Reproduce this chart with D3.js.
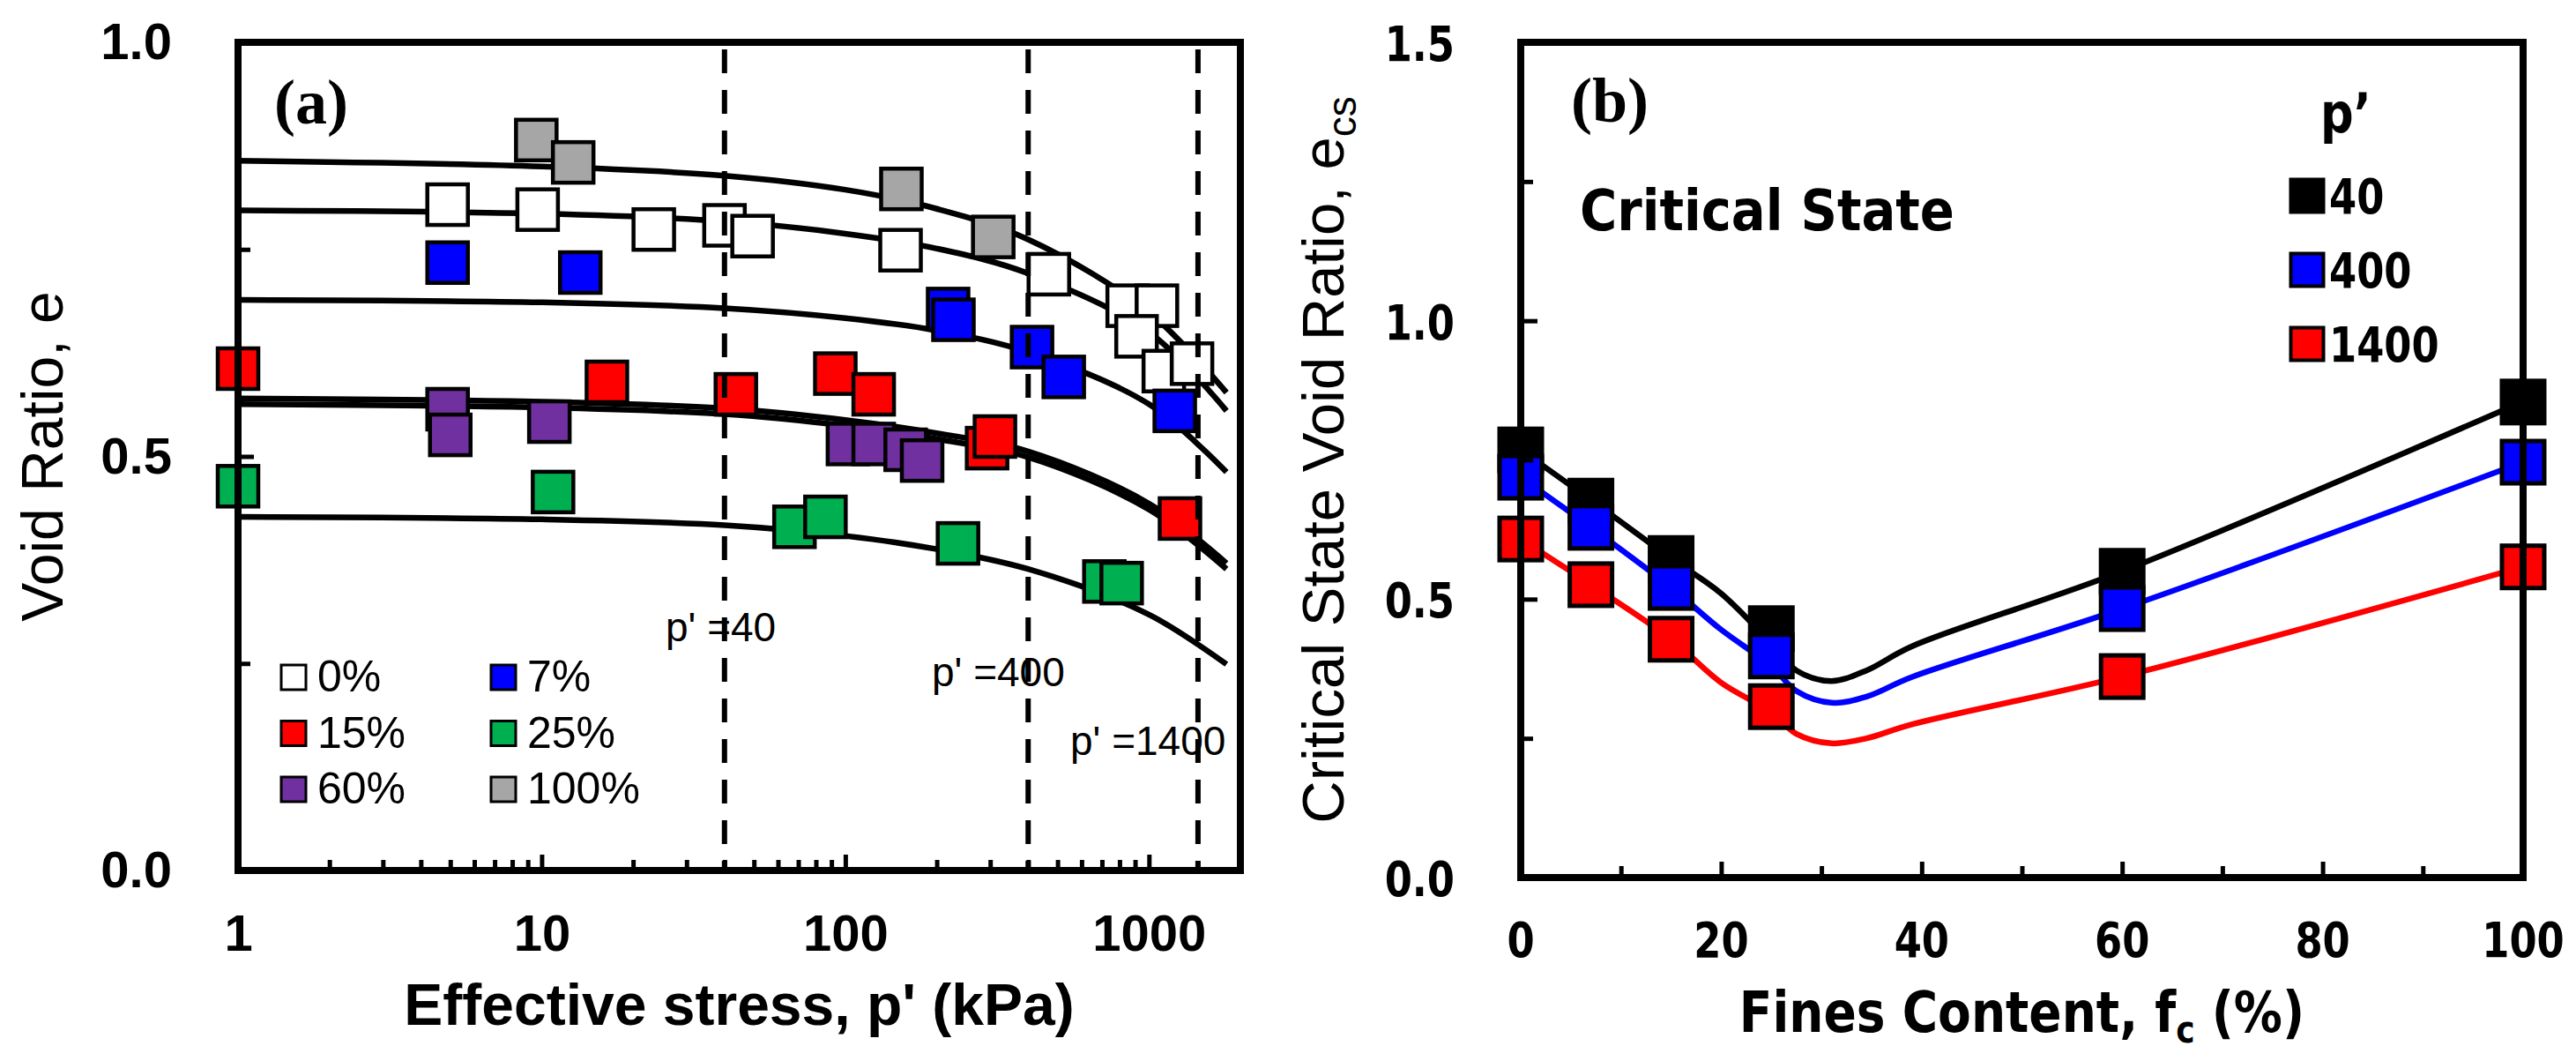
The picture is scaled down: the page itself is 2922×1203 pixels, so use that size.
<!DOCTYPE html>
<html>
<head>
<meta charset="utf-8">
<script src="https://cdn.jsdelivr.net/npm/d3@7"></script>
<style>
  body { margin: 0; background: #fff; }
</style>
</head>
<body>
<svg id="chart" width="2922" height="1203"></svg>
<script>
"use strict";

// ---------- panel (a): void ratio vs effective stress, by fines content
var fcSeries = ["0%", "7%", "15%", "25%", "60%", "100%"];
var fcColors = ["#ffffff", "#0000ff", "#ff0000", "#00b050", "#7030a0", "#a6a6a6"];

// measured points [p' kPa, e]
var pts0   = [[4.9,0.804],[9.7,0.798],[23.4,0.774],[40,0.779],[49.5,0.766],[152,0.749],[468,0.72],[851,0.682],[1062,0.682],[910,0.645],[1119,0.603],[1386,0.612]];
var pts7   = [[4.9,0.734],[13.4,0.722],[218,0.678],[227,0.665],[412,0.632],[524,0.596],[1216,0.555]];
var pts15  = [[1,0.606],[16.4,0.59],[43.6,0.575],[92.7,0.6],[124,0.575],[293,0.51],[311,0.524],[1265,0.425]];
var pts25  = [[1,0.464],[10.9,0.457],[68,0.415],[86,0.427],[235,0.395],[713,0.349],[813,0.347]];
var pts60  = [[4.9,0.557],[5.0,0.526],[10.6,0.542],[102,0.515],[124,0.515],[158,0.508],[179,0.495]];
var pts100 = [[9.6,0.882],[12.7,0.855],[153,0.823],[307,0.765]];

// fitted critical state lines, read at these stresses
var fitP   = [1, 10, 40, 100, 200, 400, 1000, 1800];
var fit0   = [0.797, 0.793, 0.784, 0.769, 0.751, 0.721, 0.650, 0.555];
var fit7   = [0.689, 0.686, 0.679, 0.667, 0.652, 0.626, 0.563, 0.481];
var fit15  = [0.570, 0.566, 0.558, 0.544, 0.528, 0.506, 0.443, 0.371];
var fit25  = [0.427, 0.424, 0.417, 0.404, 0.388, 0.364, 0.309, 0.249];
var fit60  = [0.563, 0.559, 0.551, 0.537, 0.521, 0.499, 0.436, 0.364];
var fit100 = [0.857, 0.850, 0.839, 0.822, 0.799, 0.762, 0.674, 0.577];

var refStress = [40, 400, 1450];
var refLabels = ["p' =40", "p' =400", "p' =1400"];

var xTicksA = [1, 10, 100, 1000];
var yTicksA = [0, 0.5, 1];
var yMinorA = [0.25, 0.75];

// ---------- panel (b): critical state void ratio vs fines content
var fcValues = [0, 7, 15, 25, 60, 100];
var ecs40    = [0.768, 0.676, 0.573, 0.447, 0.550, 0.854];
var ecs400   = [0.719, 0.629, 0.521, 0.398, 0.483, 0.746];
var ecs1400  = [0.608, 0.526, 0.428, 0.307, 0.361, 0.558];

// trend lines drawn through the points
var lineFc   = [0, 7, 15, 20, 25, 27.5, 31, 34.5, 39, 60, 100];
var line40   = [0.768, 0.678, 0.573, 0.510, 0.420, 0.372, 0.353, 0.372, 0.415, 0.550, 0.855];
var line400  = [0.719, 0.629, 0.521, 0.445, 0.380, 0.335, 0.314, 0.325, 0.360, 0.483, 0.746];
var line1400 = [0.608, 0.526, 0.428, 0.350, 0.297, 0.258, 0.241, 0.250, 0.275, 0.361, 0.558];

var pSeries = ["40", "400", "1400"];
var pColors = ["#000000", "#0000ff", "#ff0000"];

var xTicksB = [0, 20, 40, 60, 80, 100];
var xMinorB = [10, 30, 50, 70, 90];
var yTicksB = [0, 0.5, 1, 1.5];
var yMinorB = [0.25, 0.75, 1.25];

var SANS = "Liberation Sans, Arial, sans-serif";
var WIDE = "DejaVu Sans, Verdana, sans-serif";
var SERIF = "Liberation Serif, Times New Roman, serif";

var svg = d3.select("#chart");

// ======================= panel (a) =======================
var boxA = {left: 270, right: 1407, top: 48, bottom: 987};
var xA = d3.scaleLog().domain([1, 2000]).range([boxA.left, boxA.right]);
var yA = d3.scaleLinear().domain([0, 1]).range([boxA.bottom, boxA.top]);
var gA = svg.append("g");

var fitsA = [fit0, fit7, fit15, fit25, fit60, fit100];
var ptsA = [pts0, pts7, pts15, pts25, pts60, pts100];

var lineA = d3.line()
  .x(function (d) { return xA(d[0]); })
  .y(function (d) { return yA(d[1]); })
  .curve(d3.curveCatmullRom);

gA.selectAll("path.fit")
  .data(fitsA)
  .enter()
  .append("path")
  .attr("class", "fit")
  .attr("d", function (vals) { return lineA(d3.zip(fitP, vals)); })
  .attr("fill", "none")
  .attr("stroke", "#000")
  .attr("stroke-width", 6.5);

var MARK_A = 46;
// draw order: 100% and 0% first so the coloured sets sit on top
[5, 0, 1, 4, 2, 3].forEach(function (si) {
  gA.append("g")
    .selectAll("rect")
    .data(ptsA[si])
    .enter()
    .append("rect")
    .attr("x", function (d) { return xA(d[0]) - MARK_A / 2; })
    .attr("y", function (d) { return yA(d[1]) - MARK_A / 2; })
    .attr("width", MARK_A)
    .attr("height", MARK_A)
    .attr("fill", fcColors[si])
    .attr("stroke", "#000")
    .attr("stroke-width", 4.5);
});

// reference stress lines
gA.selectAll("line.ref")
  .data(refStress)
  .enter()
  .append("line")
  .attr("x1", function (d) { return xA(d); })
  .attr("x2", function (d) { return xA(d); })
  .attr("y1", boxA.top + 8)
  .attr("y2", boxA.bottom)
  .attr("stroke", "#000")
  .attr("stroke-width", 6)
  .attr("stroke-dasharray", "27,19");

var refPos = [[755, 727], [1057, 778], [1214, 856]];
gA.selectAll("text.ref")
  .data(refLabels)
  .enter()
  .append("text")
  .attr("x", function (d, i) { return refPos[i][0]; })
  .attr("y", function (d, i) { return refPos[i][1]; })
  .attr("font-family", SANS)
  .attr("font-size", 46)
  .text(function (d) { return d; });

// axes, ticks inside
var xMinorA = [];
[1, 10, 100, 1000].forEach(function (dec) {
  d3.range(2, 10).forEach(function (k) { if (dec * k <= 2000) xMinorA.push(dec * k); });
});

function styleAxis(g) {
  g.select(".domain").remove();
  g.selectAll(".tick line").attr("stroke", "#000").attr("stroke-width", 5);
}

gA.append("g")
  .attr("transform", "translate(0," + boxA.bottom + ")")
  .call(d3.axisBottom(xA).tickValues(xMinorA).tickSize(-12).tickFormat(""))
  .call(styleAxis);

gA.append("g")
  .attr("transform", "translate(0," + boxA.bottom + ")")
  .call(d3.axisBottom(xA).tickValues(xTicksA).tickSize(-18).tickSizeOuter(0).tickPadding(50)
    .tickFormat(d3.format("d")))
  .call(styleAxis)
  .selectAll("text")
  .attr("font-family", SANS)
  .attr("font-weight", "bold")
  .attr("font-size", 58)
  .attr("fill", "#000");

gA.append("g")
  .attr("transform", "translate(" + boxA.left + ",0)")
  .call(d3.axisLeft(yA).tickValues(yMinorA).tickSize(-14).tickFormat(""))
  .call(styleAxis);

gA.append("g")
  .attr("transform", "translate(" + boxA.left + ",0)")
  .call(d3.axisLeft(yA).tickValues(yTicksA).tickSize(-18).tickSizeOuter(0).tickPadding(75)
    .tickFormat(d3.format(".1f")))
  .call(styleAxis)
  .selectAll("text")
  .attr("font-family", SANS)
  .attr("font-weight", "bold")
  .attr("font-size", 58)
  .attr("fill", "#000");

gA.append("rect")
  .attr("x", boxA.left).attr("y", boxA.top)
  .attr("width", boxA.right - boxA.left).attr("height", boxA.bottom - boxA.top)
  .attr("fill", "none").attr("stroke", "#000").attr("stroke-width", 8);

// titles
gA.append("text")
  .attr("x", (boxA.left + boxA.right) / 2).attr("y", 1162)
  .attr("text-anchor", "middle")
  .attr("font-family", SANS).attr("font-weight", "bold").attr("font-size", 66)
  .text("Effective stress, p' (kPa)");

gA.append("text")
  .attr("transform", "translate(71," + (boxA.top + boxA.bottom) / 2 + ") rotate(-90)")
  .attr("text-anchor", "middle")
  .attr("font-family", SANS).attr("font-size", 66)
  .text("Void Ratio, e");

gA.append("text")
  .attr("x", 311).attr("y", 140)
  .attr("font-family", SERIF).attr("font-weight", "bold").attr("font-size", 72)
  .text("(a)");

// legend (a): two columns
var legA = gA.append("g");
var LEG_A = 28;
fcSeries.forEach(function (name, i) {
  var cx = i % 2 === 0 ? 333 : 571;
  var cy = 768 + Math.floor(i / 2) * 63.5;
  legA.append("rect")
    .attr("x", cx - LEG_A / 2).attr("y", cy - LEG_A / 2)
    .attr("width", LEG_A).attr("height", LEG_A)
    .attr("fill", fcColors[i]).attr("stroke", "#000").attr("stroke-width", 3);
  legA.append("text")
    .attr("x", cx + 27).attr("y", cy + 16)
    .attr("font-family", SANS).attr("font-size", 50)
    .text(name);
});

// ======================= panel (b) =======================
var boxB = {left: 1725, right: 2862, top: 48, bottom: 995};
var xB = d3.scaleLinear().domain([0, 100]).range([boxB.left, boxB.right]);
var yB = d3.scaleLinear().domain([0, 1.5]).range([boxB.bottom, boxB.top]);
var gB = svg.append("g");

function squeezed(g, x, y, sx, size, anchor) {
  return g.append("text")
    .attr("transform", "translate(" + x + "," + y + ") scale(" + sx + ",1)")
    .attr("text-anchor", anchor)
    .attr("font-family", WIDE)
    .attr("font-weight", "bold")
    .attr("font-size", size);
}

var linesB = [line40, line400, line1400];
var ptsB = [ecs40, ecs400, ecs1400];

var lineB = d3.line()
  .x(function (d) { return xB(d[0]); })
  .y(function (d) { return yB(d[1]); })
  .curve(d3.curveCatmullRom);

// red first, black on top
[2, 1, 0].forEach(function (si) {
  gB.append("path")
    .attr("d", lineB(d3.zip(lineFc, linesB[si])))
    .attr("fill", "none")
    .attr("stroke", pColors[si])
    .attr("stroke-width", 6.5);
});

var MARK_B = 48;
[2, 0, 1].forEach(function (si) {
  gB.append("g")
    .selectAll("rect")
    .data(d3.zip(fcValues, ptsB[si]))
    .enter()
    .append("rect")
    .attr("x", function (d) { return xB(d[0]) - MARK_B / 2; })
    .attr("y", function (d) { return yB(d[1]) - MARK_B / 2; })
    .attr("width", MARK_B)
    .attr("height", MARK_B)
    .attr("fill", pColors[si])
    .attr("stroke", "#000")
    .attr("stroke-width", 5);
});

gB.append("g")
  .attr("transform", "translate(0," + boxB.bottom + ")")
  .call(d3.axisBottom(xB).tickValues(xMinorB).tickSize(-13).tickFormat(""))
  .call(styleAxis);
gB.append("g")
  .attr("transform", "translate(0," + boxB.bottom + ")")
  .call(d3.axisBottom(xB).tickValues(xTicksB).tickSize(-18).tickSizeOuter(0).tickFormat(""))
  .call(styleAxis);
gB.append("g")
  .attr("transform", "translate(" + boxB.left + ",0)")
  .call(d3.axisLeft(yB).tickValues(yMinorB).tickSize(-14).tickFormat(""))
  .call(styleAxis);
gB.append("g")
  .attr("transform", "translate(" + boxB.left + ",0)")
  .call(d3.axisLeft(yB).tickValues(yTicksB).tickSize(-19).tickSizeOuter(0).tickFormat(""))
  .call(styleAxis);

xTicksB.forEach(function (v) {
  squeezed(gB, xB(v), 1085, 0.8, 56, "middle").text(v);
});
yTicksB.forEach(function (v) {
  squeezed(gB, 1650, yB(v) + 21, 0.8, 56, "end").text(d3.format(".1f")(v));
});

gB.append("rect")
  .attr("x", boxB.left).attr("y", boxB.top)
  .attr("width", boxB.right - boxB.left).attr("height", boxB.bottom - boxB.top)
  .attr("fill", "none").attr("stroke", "#000").attr("stroke-width", 8);

// titles
var xt = squeezed(gB, (boxB.left + boxB.right) / 2, 1170, 0.86, 64, "middle");
xt.append("tspan").text("Fines Content, f");
xt.append("tspan").attr("dy", 12).attr("font-size", 42).text("c");
xt.append("tspan").attr("dy", -12).text(" (%)");

var yt = gB.append("text")
  .attr("transform", "translate(1524," + (boxB.top + boxB.bottom) / 2 + ") rotate(-90)")
  .attr("text-anchor", "middle")
  .attr("font-family", SANS).attr("font-size", 67);
yt.append("tspan").text("Critical State Void Ratio, e");
yt.append("tspan").attr("dy", 14).attr("font-size", 46).text("cs");

gB.append("text")
  .attr("x", 1782).attr("y", 138)
  .attr("font-family", SERIF).attr("font-weight", "bold").attr("font-size", 72)
  .text("(b)");

squeezed(gB, 1792, 261, 0.9, 64, "start").text("Critical State");

// legend (b)
squeezed(gB, 2632, 150, 0.85, 62, "start").text("p\u2019");
var LEG_B = 37;
pSeries.forEach(function (name, i) {
  var cy = 222 + i * 84;
  gB.append("rect")
    .attr("x", 2617 - LEG_B / 2).attr("y", cy - LEG_B / 2)
    .attr("width", LEG_B).attr("height", LEG_B)
    .attr("fill", pColors[i]).attr("stroke", "#000").attr("stroke-width", 4);
  squeezed(gB, 2642, cy + 20, 0.8, 56, "start").text(name);
});
</script>
</body>
</html>
